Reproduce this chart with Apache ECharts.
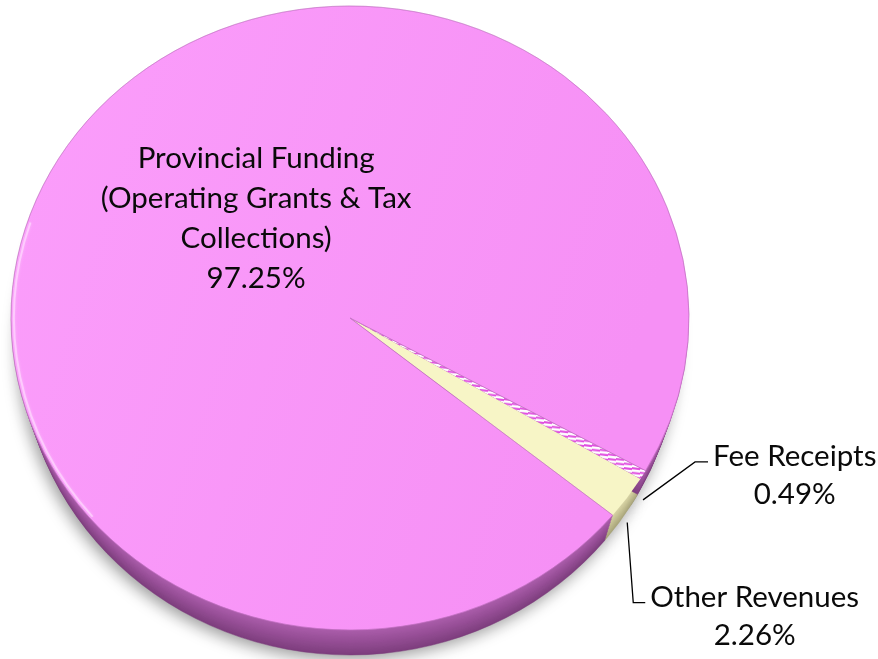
<!DOCTYPE html>
<html>
<head>
<meta charset="utf-8">
<script src="https://cdn.jsdelivr.net/npm/echarts@6/dist/echarts.min.js"></script>
<style>
  html, body { margin: 0; padding: 0; background: #ffffff; }
  #chart { width: 878px; height: 659px; }
</style>
</head>
<body>
<div id="chart"></div>
<script>
// Revenue shares, in drawing order (clockwise from the start angle)
const categories = ['Fee Receipts', 'Other Revenues', 'Provincial Funding\n(Operating Grants & Tax\nCollections)'];
const shares = [0.49, 2.26, 97.25];

// Tilted-disc geometry
const CX = 350, CY = 318, RX = 339, RY = 312;
const DEPTH = 25;          // wall height in px
const SHRINK = 0.4;        // horizontal radius lost per px of depth (perspective)
const START_DEG = 29.3;    // screen degrees, clockwise from 3 o'clock
const FONT_FAMILY = 'Lato, "Open Sans", sans-serif';
const FONT_SIZE = 29.5;

// Leader-line shapes for the outside labels (elbow offset, then horizontal run)
const leaders = [
  { dx: 52, dy: -38, run: 13 },
  { dx: 6, dy: 80, run: 12 },
  null
];

const total = shares.reduce((a, b) => a + b, 0);

// striped fill for the thin Fee Receipts wedge
function stripePattern() {
  const c = document.createElement('canvas');
  c.width = 8; c.height = 5;
  const g = c.getContext('2d');
  g.fillStyle = '#ffffff';
  g.fillRect(0, 0, 8, 5);
  g.fillStyle = '#E14FE0';
  g.beginPath();
  g.moveTo(0, 0); g.lineTo(8, 1); g.lineTo(8, 3.2); g.lineTo(0, 2.2); g.closePath();
  g.fill();
  return { image: c, repeat: 'repeat' };
}

const topFills = [
  stripePattern(),
  '#F7F5C6',
  { type: 'linear', x: 0, y: 0, x2: 1, y2: 0.3,
    colorStops: [{ offset: 0, color: '#FB9EFB' }, { offset: 1, color: '#F690F5' }] }
];
// side wall colours: [near rim, bottom edge]
const sideColors = [
  ['#D9D5A6', '#A9A57A'],
  ['#D9D5A6', '#A9A57A'],
  ['#AC5EAC', '#7E3E7E']
];

function mix(c1, c2, t) {
  const a = parseInt(c1.slice(1), 16), b = parseInt(c2.slice(1), 16);
  const r = Math.round(((a >> 16) & 255) * (1 - t) + ((b >> 16) & 255) * t);
  const gg = Math.round(((a >> 8) & 255) * (1 - t) + ((b >> 8) & 255) * t);
  const bl = Math.round((a & 255) * (1 - t) + (b & 255) * t);
  return 'rgb(' + r + ',' + gg + ',' + bl + ')';
}

const measureCtx = document.createElement('canvas').getContext('2d');
function textWidth(s) {
  measureCtx.font = FONT_SIZE + 'px ' + FONT_FAMILY;
  return measureCtx.measureText(s).width;
}

function fmt(v) { return v.toFixed(2) + '%'; }

function renderItem(params, api) {
  const i = params.dataIndex;
  const value = api.value(0);
  let before = 0;
  for (let k = 0; k < i; k++) before += shares[k];
  const a0 = (START_DEG + before / total * 360) * Math.PI / 180;
  const a1 = (START_DEG + (before + value) / total * 360) * Math.PI / 180;
  const sy = RY / RX;
  const shape = { cx: CX, cy: CY, r: RX, startAngle: a0, endAngle: a1, clockwise: true };
  const children = [];

  // side wall: copies of the wedge pushed downward, darker and narrower with depth
  for (let d = DEPTH; d > 0; d -= 1.5) {
    const t = d / DEPTH;
    const col = mix(sideColors[i][0], sideColors[i][1], t);
    const st = { fill: col, stroke: col, lineWidth: 0.5 };
    if (d === DEPTH) {
      st.shadowBlur = 16;
      st.shadowColor = 'rgba(0,0,0,0.4)';
      st.shadowOffsetY = 4;
      st.shadowOffsetX = -3;
    }
    children.push({
      type: 'sector', shape: shape,
      y: d, scaleX: (RX - d * SHRINK) / RX, scaleY: sy, originX: CX, originY: CY,
      style: st, z2: d === DEPTH ? 0 : 1, silent: true
    });
  }

  // top face
  children.push({
    type: 'sector', shape: shape,
    scaleY: sy, originX: CX, originY: CY,
    style: { fill: topFills[i], stroke: i === 2 ? 'rgba(190,110,190,0.55)' : 'rgba(0,0,0,0)', lineWidth: 0.8 },
    z2: 10
  });

  if (i === 2) {
    // soft light rim along the left edge of the top face
    children.push({
      type: 'arc',
      shape: { cx: CX, cy: CY, r: RX - 3, startAngle: 140 * Math.PI / 180, endAngle: 198 * Math.PI / 180, clockwise: true },
      scaleY: sy, originX: CX, originY: CY,
      style: { stroke: 'rgba(255,225,255,0.6)', lineWidth: 2, fill: null, shadowBlur: 3, shadowColor: 'rgba(255,230,255,0.7)' },
      z2: 11, silent: true
    });
  }

  const lines = categories[i].split('\n');
  const labelText = categories[i] + '\n' + fmt(value);
  const lead = leaders[i];
  if (lead) {
    const am = (a0 + a1) / 2;
    const px = CX + RX * Math.cos(am);
    const py = CY + RY * Math.sin(am) + DEPTH;
    const bx = px + lead.dx, by = py + lead.dy;
    const ex = bx + lead.run;
    children.push({
      type: 'polyline',
      shape: { points: [[px, py], [bx, by], [ex, by]] },
      style: { stroke: '#000000', lineWidth: 1.3, fill: null },
      z2: 20
    });
    const w = textWidth(lines[0]);
    children.push({
      type: 'text', z2: 20,
      style: {
        text: labelText, x: ex + 5 + w / 2, y: by - 5 - 19,
        fontSize: FONT_SIZE, fontFamily: FONT_FAMILY, fill: '#0a0a0a',
        align: 'center', verticalAlign: 'top', lineHeight: 38
      }
    });
  } else {
    children.push({
      type: 'text', z2: 20,
      style: {
        text: labelText, x: CX - 0.277 * RX, y: CY - 0.32 * RY,
        fontSize: FONT_SIZE, fontFamily: FONT_FAMILY, fill: '#0a0a0a',
        align: 'center', verticalAlign: 'middle', lineHeight: 40
      }
    });
  }

  return { type: 'group', children: children };
}

const chart = echarts.init(document.getElementById('chart'), null, { renderer: 'canvas' });

function draw() {
  chart.setOption({
    backgroundColor: '#ffffff',
    animation: false,
    series: [{
      type: 'custom',
      coordinateSystem: 'none',
      renderItem: renderItem,
      data: shares.map((v, i) => ({ name: categories[i], value: [v] }))
    }]
  }, true);
}

draw();
if (document.fonts && document.fonts.load) {
  document.fonts.load(FONT_SIZE + 'px Lato').then(draw, draw);
}
</script>
</body>
</html>
